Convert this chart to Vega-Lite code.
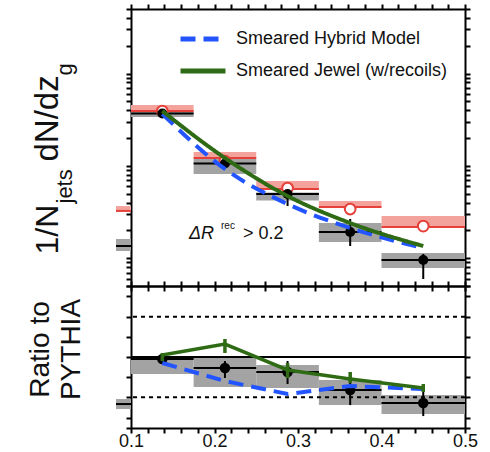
{
  "$schema": "https://vega.github.io/schema/vega-lite/v6.json",
  "padding": {"left": 26, "top": 3, "right": 5, "bottom": 5},
  "config": {
    "font": "Liberation Sans",
    "view": {"stroke": null},
    "axis": {"domain": true, "domainColor": "#000", "domainWidth": 2, "tickColor": "#000", "tickWidth": 2, "grid": false, "zindex": 1, "labels": false, "titleFontWeight": "normal", "titleColor": "#111", "titleFont": "Liberation Sans"}
  },
  "datasets": {
    "up": [
      {"xlo": 0.082, "xhi": 0.1, "xc": null, "rlo": 0.325, "rhi": 0.367, "rpt": null, "blk": 0.1355, "slo": 0.1197, "shi": 0.1614, "elo": null, "ehi": null},
      {"xlo": 0.1, "xhi": 0.175, "xc": 0.1375, "rlo": 3.93, "rhi": 4.56, "rpt": 3.93, "blk": 3.69, "slo": 3.38, "shi": 3.83, "elo": null, "ehi": null},
      {"xlo": 0.175, "xhi": 0.25, "xc": 0.2125, "rlo": 1.217, "rhi": 1.413, "rpt": 1.129, "blk": 1.061, "slo": 0.816, "shi": 1.187, "elo": 0.948, "ehi": 1.187},
      {"xlo": 0.25, "xhi": 0.325, "xc": 0.2875, "rlo": 0.562, "rhi": 0.686, "rpt": 0.576, "blk": 0.496, "slo": 0.422, "shi": 0.515, "elo": 0.367, "ehi": 0.576},
      {"xlo": 0.325, "xhi": 0.4, "xc": 0.3625, "rlo": 0.358, "rhi": 0.416, "rpt": 0.341, "blk": 0.1922, "slo": 0.1498, "shi": 0.2405, "elo": 0.1355, "ehi": 0.266},
      {"xlo": 0.4, "xhi": 0.5, "xc": 0.45, "rlo": 0.218, "rhi": 0.286, "rpt": 0.223, "blk": 0.0956, "slo": 0.0783, "shi": 0.1138, "elo": 0.0595, "ehi": 0.111}
    ],
    "models": [
      {"model": "Smeared Hybrid Model", "x": 0.1375, "y": 3.65},
      {"model": "Smeared Hybrid Model", "x": 0.2125, "y": 0.925},
      {"model": "Smeared Hybrid Model", "x": 0.2875, "y": 0.386},
      {"model": "Smeared Hybrid Model", "x": 0.3625, "y": 0.2124},
      {"model": "Smeared Hybrid Model", "x": 0.45, "y": 0.129},
      {"model": "Smeared Jewel (w/recoils)", "x": 0.1375, "y": 3.93},
      {"model": "Smeared Jewel (w/recoils)", "x": 0.2125, "y": 1.217},
      {"model": "Smeared Jewel (w/recoils)", "x": 0.2875, "y": 0.472},
      {"model": "Smeared Jewel (w/recoils)", "x": 0.3625, "y": 0.2405},
      {"model": "Smeared Jewel (w/recoils)", "x": 0.45, "y": 0.1355}
    ],
    "lo": [
      {"xlo": 0.082, "xhi": 0.1, "xc": null, "blk": 0.417, "slo": 0.355, "shi": 0.479, "elo": null, "ehi": null, "hyb": null, "jew": null, "jlo": null, "jhi": null},
      {"xlo": 0.1, "xhi": 0.175, "xc": 0.1375, "blk": 0.975, "slo": 0.789, "shi": 1.0, "elo": null, "ehi": null, "hyb": 0.926, "jew": 1.025, "jlo": 0.95, "jhi": 1.05},
      {"xlo": 0.175, "xhi": 0.25, "xc": 0.2125, "blk": 0.864, "slo": 0.628, "shi": 0.988, "elo": 0.74, "ehi": 0.95, "hyb": 0.702, "jew": 1.161, "jlo": 1.05, "jhi": 1.223},
      {"xlo": 0.25, "xhi": 0.325, "xc": 0.2875, "blk": 0.814, "slo": 0.615, "shi": 0.901, "elo": 0.665, "ehi": 0.95, "hyb": 0.541, "jew": 0.839, "jlo": 0.739, "jhi": 0.926},
      {"xlo": 0.325, "xhi": 0.4, "xc": 0.3625, "blk": 0.59, "slo": 0.404, "shi": 0.715, "elo": 0.404, "ehi": 0.777, "hyb": 0.64, "jew": 0.727, "jlo": 0.677, "jhi": 0.814},
      {"xlo": 0.4, "xhi": 0.5, "xc": 0.45, "blk": 0.43, "slo": 0.293, "shi": 0.529, "elo": 0.268, "ehi": 0.59, "hyb": 0.603, "jew": 0.615, "jlo": 0.566, "jhi": 0.665}
    ],
    "ref1": [{"r": 1}],
    "refd": [{"r": 0.5}, {"r": 1.5}],
    "ann": [{"x": 0.1695, "y": 0.1614}]
  },
  "spacing": 0,
  "bounds": "flush",
  "vconcat": [
    {
      "width": 334,
      "height": 277,
      "resolve": {"axis": {"x": "independent", "y": "independent"}},
      "layer": [
        {
          "data": {"name": "up"},
          "mark": {"type": "rect", "fill": "#f3a39b", "clip": false},
          "encoding": {
            "x": {"field": "xlo", "type": "quantitative", "scale": {"domain": [0.1, 0.5], "nice": false, "zero": false},
              "axis": {"orient": "bottom", "values": [0.1,0.12,0.14,0.16,0.18,0.2,0.22,0.24,0.26,0.28,0.3,0.32,0.34,0.36,0.38,0.4,0.42,0.44,0.46,0.48,0.5], "labels": false,
                "title": "g", "titleAngle": 270, "titleX": -60, "titleY": -211, "titleAlign": "left", "titleBaseline": "alphabetic", "titleFontSize": 22,
                "encode": {"ticks": {"update": {"y2": [{"test": "abs(datum.value*10 - round(datum.value*10)) < 0.001", "value": -9}, {"value": -5}]}}}}},
            "x2": {"field": "xhi"},
            "y": {"field": "rlo", "type": "quantitative", "scale": {"type": "log", "domain": [0.05, 50], "nice": false},
              "axis": {"orient": "left", "values": [0.05,0.06,0.07,0.08,0.09,0.1,0.2,0.3,0.4,0.5,0.6,0.7,0.8,0.9,1,2,3,4,5,6,7,8,9,10,20,30,40,50], "labels": false,
                "title": "1/N", "titleAngle": 270, "titleX": -74, "titleY": 245, "titleAlign": "left", "titleBaseline": "alphabetic", "titleFontSize": 32,
                "encode": {"ticks": {"update": {
                  "x": [{"test": "datum.value < 0.0505 || datum.value > 49.5", "value": 0}, {"test": "abs(log(datum.value)/LN10 - round(log(datum.value)/LN10)) < 0.001", "value": 10}, {"value": 4.5}],
                  "x2": [{"test": "datum.value < 0.0505 || datum.value > 49.5", "value": -15}, {"test": "abs(log(datum.value)/LN10 - round(log(datum.value)/LN10)) < 0.001", "value": -10}, {"value": -4.5}]}}}}},
            "y2": {"field": "rhi"}
          }
        },
        {
          "data": {"name": "up"},
          "mark": {"type": "rect", "fill": "#a3a3a3", "clip": false},
          "encoding": {
            "x": {"field": "xlo", "type": "quantitative",
              "axis": {"orient": "top", "values": [0.1,0.12,0.14,0.16,0.18,0.2,0.22,0.24,0.26,0.28,0.3,0.32,0.34,0.36,0.38,0.4,0.42,0.44,0.46,0.48,0.5], "labels": false,
                "title": "jets", "titleAngle": 270, "titleX": -60, "titleY": 194, "titleAlign": "left", "titleBaseline": "alphabetic", "titleFontSize": 22,
                "encode": {"ticks": {"update": {"y2": [{"test": "abs(datum.value*10 - round(datum.value*10)) < 0.001", "value": 9}, {"value": 5}]}}}}},
            "x2": {"field": "xhi"},
            "y": {"field": "slo", "type": "quantitative",
              "axis": {"orient": "right", "values": [0.05,0.06,0.07,0.08,0.09,0.1,0.2,0.3,0.4,0.5,0.6,0.7,0.8,0.9,1,2,3,4,5,6,7,8,9,10,20,30,40,50], "labels": false,
                "title": "dN/dz", "titleAngle": 270, "titleX": -408, "titleY": 152, "titleAlign": "left", "titleBaseline": "alphabetic", "titleFontSize": 33,
                "encode": {"ticks": {"update": {
                  "x2": [{"test": "datum.value < 0.0505 || datum.value > 49.5", "value": 0}, {"test": "abs(log(datum.value)/LN10 - round(log(datum.value)/LN10)) < 0.001", "value": -11}, {"value": -5}]}}}}},
            "y2": {"field": "shi"}
          }
        },
        {
          "data": {"name": "up"},
          "mark": {"type": "rule", "color": "#e5413a", "strokeWidth": 2, "clip": false},
          "encoding": {
            "x": {"field": "xlo", "type": "quantitative", "axis": null},
            "x2": {"field": "xhi"},
            "y": {"field": "rlo", "type": "quantitative", "axis": null}
          }
        },
        {
          "data": {"name": "up"},
          "mark": {"type": "rule", "color": "#000", "strokeWidth": 2, "clip": false},
          "encoding": {
            "x": {"field": "xlo", "type": "quantitative", "axis": null},
            "x2": {"field": "xhi"},
            "y": {"field": "blk", "type": "quantitative", "axis": null}
          }
        },
        {
          "data": {"name": "up"},
          "mark": {"type": "rule", "color": "#000", "strokeWidth": 2},
          "encoding": {
            "x": {"field": "xc", "type": "quantitative", "axis": null},
            "y": {"field": "elo", "type": "quantitative", "axis": null},
            "y2": {"field": "ehi"}
          }
        },
        {
          "data": {"name": "up"},
          "mark": {"type": "point", "shape": "circle", "filled": true, "fill": "#fff", "stroke": "#e5413a", "strokeWidth": 2, "size": 115, "opacity": 1},
          "encoding": {
            "x": {"field": "xc", "type": "quantitative", "axis": null},
            "y": {"field": "rpt", "type": "quantitative", "axis": null}
          }
        },
        {
          "data": {"name": "up"},
          "mark": {"type": "point", "shape": "circle", "filled": true, "color": "#000", "size": 100, "opacity": 1},
          "encoding": {
            "x": {"field": "xc", "type": "quantitative", "axis": null},
            "y": {"field": "blk", "type": "quantitative", "axis": null}
          }
        },
        {
          "data": {"name": "models"},
          "mark": {"type": "line", "strokeWidth": 4, "interpolate": "monotone"},
          "encoding": {
            "x": {"field": "x", "type": "quantitative", "axis": null},
            "y": {"field": "y", "type": "quantitative", "axis": null},
            "color": {"field": "model", "type": "nominal",
              "scale": {"domain": ["Smeared Hybrid Model", "Smeared Jewel (w/recoils)"], "range": ["#2255ff", "#2f6b14"]},
              "legend": {"orient": "none", "legendX": 47, "legendY": 20, "title": null, "symbolType": "stroke", "symbolSize": 2025, "symbolStrokeWidth": 5,
                "labelFontSize": 18, "labelFont": "Liberation Sans", "labelColor": "#111", "labelOffset": 8, "clipHeight": 20, "rowPadding": 12, "padding": 0, "labelLimit": 0}},
            "strokeDash": {"field": "model", "type": "nominal",
              "scale": {"domain": ["Smeared Hybrid Model", "Smeared Jewel (w/recoils)"], "range": [[15, 8], [1, 0]]},
              "legend": {"orient": "none", "legendX": 47, "legendY": 20, "title": null, "symbolType": "stroke", "symbolSize": 2025, "symbolStrokeWidth": 5,
                "labelFontSize": 18, "labelFont": "Liberation Sans", "labelColor": "#111", "labelOffset": 8, "clipHeight": 20, "rowPadding": 12, "padding": 0, "labelLimit": 0}}
          }
        },
        {
          "data": {"name": "ann"},
          "mark": {"type": "text", "text": "ΔR", "fontStyle": "italic", "fontSize": 18, "align": "left", "baseline": "alphabetic", "color": "#111"},
          "encoding": {
            "x": {"field": "x", "type": "quantitative", "axis": null},
            "y": {"field": "y", "type": "quantitative", "axis": null}
          }
        },
        {
          "data": {"name": "ann"},
          "mark": {"type": "text", "text": "rec", "fontSize": 10, "align": "left", "baseline": "alphabetic", "dx": 32, "dy": -10, "color": "#111"},
          "encoding": {
            "x": {"field": "x", "type": "quantitative", "axis": null},
            "y": {"field": "y", "type": "quantitative", "axis": null}
          }
        },
        {
          "data": {"name": "ann"},
          "mark": {"type": "text", "text": "> 0.2", "fontSize": 18, "align": "left", "baseline": "alphabetic", "dx": 54, "color": "#111"},
          "encoding": {
            "x": {"field": "x", "type": "quantitative", "axis": null},
            "y": {"field": "y", "type": "quantitative", "axis": null}
          }
        }
      ]
    },
    {
      "width": 334,
      "height": 142,
      "resolve": {"axis": {"x": "independent", "y": "independent"}},
      "layer": [
        {
          "data": {"name": "lo"},
          "mark": {"type": "rect", "fill": "#a3a3a3", "clip": false},
          "encoding": {
            "x": {"field": "xlo", "type": "quantitative", "scale": {"domain": [0.1, 0.5], "nice": false, "zero": false},
              "axis": {"orient": "bottom", "values": [0.1,0.12,0.14,0.16,0.18,0.2,0.22,0.24,0.26,0.28,0.3,0.32,0.34,0.36,0.38,0.4,0.42,0.44,0.46,0.48,0.5],
                "labels": true, "labelExpr": "abs(datum.value*10 - round(datum.value*10)) < 0.001 ? format(datum.value, '.1f') : ''",
                "labelFontSize": 18, "labelColor": "#111", "labelFont": "Liberation Sans", "labelPadding": -1, "labelFlush": false, "labelBound": false, "labelOverlap": false, "labelAngle": 0,
                "title": null,
                "encode": {"ticks": {"update": {"y2": [{"test": "abs(datum.value*10 - round(datum.value*10)) < 0.001", "value": -9}, {"value": -5}]}}}}},
            "x2": {"field": "xhi"},
            "y": {"field": "slo", "type": "quantitative", "scale": {"domain": [0.12, 1.88], "nice": false, "zero": false},
              "axis": {"orient": "left", "values": [0.12,0.25,0.5,0.75,1,1.25,1.5,1.75,1.88], "labels": false,
                "title": ["Ratio to", "PYTHIA"], "titleAngle": 270, "titleX": -83, "titleY": 63, "titleAlign": "center", "titleBaseline": "alphabetic", "titleFontSize": 28, "titleLineHeight": 31,
                "encode": {"ticks": {"update": {
                  "x": [{"test": "datum.value < 0.13 || datum.value > 1.87", "value": 0}, {"test": "abs(datum.value*2 - round(datum.value*2)) < 0.001", "value": 10}, {"value": 4}],
                  "x2": [{"test": "datum.value < 0.13 || datum.value > 1.87", "value": -15}, {"test": "abs(datum.value*2 - round(datum.value*2)) < 0.001", "value": -12}, {"value": -4}]}}}}},
            "y2": {"field": "shi"}
          }
        },
        {
          "data": {"name": "ref1"},
          "mark": {"type": "rule", "color": "#000", "strokeWidth": 2},
          "encoding": {"y": {"field": "r", "type": "quantitative", "axis": null}}
        },
        {
          "data": {"name": "refd"},
          "mark": {"type": "rule", "color": "#000", "strokeWidth": 2, "strokeDash": [4, 4]},
          "encoding": {"y": {"field": "r", "type": "quantitative", "axis": null}}
        },
        {
          "data": {"name": "lo"},
          "mark": {"type": "rule", "color": "#000", "strokeWidth": 2, "clip": false},
          "encoding": {
            "x": {"field": "xlo", "type": "quantitative",
              "axis": {"orient": "top", "values": [0.1,0.12,0.14,0.16,0.18,0.2,0.22,0.24,0.26,0.28,0.3,0.32,0.34,0.36,0.38,0.4,0.42,0.44,0.46,0.48,0.5], "labels": false, "title": null,
                "encode": {"ticks": {"update": {"y2": [{"test": "abs(datum.value*10 - round(datum.value*10)) < 0.001", "value": 9}, {"value": 5}]}}}}},
            "x2": {"field": "xhi"},
            "y": {"field": "blk", "type": "quantitative",
              "axis": {"orient": "right", "values": [0.12,0.25,0.5,0.75,1,1.25,1.5,1.75,1.88], "labels": false, "title": null,
                "encode": {"ticks": {"update": {
                  "x2": [{"test": "datum.value < 0.13 || datum.value > 1.87", "value": 0}, {"test": "abs(datum.value*2 - round(datum.value*2)) < 0.001", "value": -12}, {"value": -4}]}}}}}
          }
        },
        {
          "data": {"name": "lo"},
          "mark": {"type": "rule", "color": "#000", "strokeWidth": 2},
          "encoding": {
            "x": {"field": "xc", "type": "quantitative", "axis": null},
            "y": {"field": "elo", "type": "quantitative", "axis": null},
            "y2": {"field": "ehi"}
          }
        },
        {
          "data": {"name": "lo"},
          "mark": {"type": "point", "shape": "circle", "filled": true, "color": "#000", "size": 110, "opacity": 1},
          "encoding": {
            "x": {"field": "xc", "type": "quantitative", "axis": null},
            "y": {"field": "blk", "type": "quantitative", "axis": null}
          }
        },
        {
          "data": {"name": "lo"},
          "mark": {"type": "line", "color": "#2255ff", "strokeWidth": 4, "strokeDash": [15, 8]},
          "encoding": {
            "x": {"field": "xc", "type": "quantitative", "axis": null},
            "y": {"field": "hyb", "type": "quantitative", "axis": null}
          }
        },
        {
          "data": {"name": "lo"},
          "mark": {"type": "line", "color": "#2f6b14", "strokeWidth": 3.5},
          "encoding": {
            "x": {"field": "xc", "type": "quantitative", "axis": null},
            "y": {"field": "jew", "type": "quantitative", "axis": null}
          }
        },
        {
          "data": {"name": "lo"},
          "mark": {"type": "rule", "color": "#2f6b14", "strokeWidth": 3.5},
          "encoding": {
            "x": {"field": "xc", "type": "quantitative", "axis": null},
            "y": {"field": "jlo", "type": "quantitative", "axis": null},
            "y2": {"field": "jhi"}
          }
        }
      ]
    }
  ]
}
